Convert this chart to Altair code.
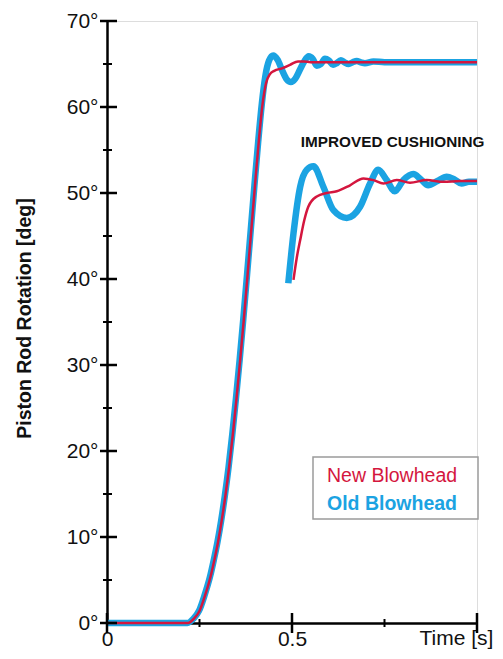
import altair as alt
import pandas as pd

# ---------------- data ----------------
new_main_t = [0.0, 0.219, 0.235, 0.25, 0.265, 0.28, 0.29, 0.30, 0.31, 0.32,
              0.33, 0.34, 0.35, 0.36, 0.37, 0.38, 0.39, 0.40, 0.41, 0.42,
              0.43, 0.44, 0.452, 0.473, 0.4946, 0.5162, 0.5324, 0.55, 0.6, 0.7,
              0.8, 0.9, 1.0]
new_main_deg = [0.0, 0.0, 0.5, 1.4, 3.2, 5.4, 7.3, 9.4, 11.9, 14.8,
                18.1, 21.9, 26.1, 30.6, 35.4, 40.5, 45.7, 50.9, 55.9, 60.2,
                62.8, 63.8, 64.2, 64.5, 64.9, 65.3, 65.3, 65.2, 65.2, 65.2,
                65.2, 65.2, 65.2]

old_main_t = [0.0, 0.2175, 0.2335, 0.2485, 0.2635, 0.2785, 0.2885, 0.2985, 0.3085, 0.3185,
              0.3285, 0.3385, 0.3485, 0.3585, 0.3685, 0.3785, 0.3885, 0.3985, 0.4085, 0.4185,
              0.428, 0.438, 0.449, 0.461, 0.474,
              0.486, 0.497, 0.509, 0.521, 0.533, 0.545, 0.556, 0.567, 0.578, 0.589,
              0.600, 0.611, 0.621, 0.632, 0.642, 0.653, 0.664, 0.675, 0.686, 0.697,
              0.72, 0.75, 0.8, 0.9, 1.0]
old_main_deg = [0.0, 0.0, 0.5, 1.4, 3.2, 5.4, 7.3, 9.4, 11.9, 14.8,
                18.1, 21.9, 26.1, 30.6, 35.4, 40.5, 45.7, 50.9, 55.9, 60.4,
                63.6, 65.4, 66.0, 65.5, 64.2,
                63.2, 62.9, 63.3, 64.3, 65.3, 65.9, 65.6, 64.8, 65.0, 65.6,
                65.4, 64.9, 65.1, 65.45, 65.2, 65.0, 65.2, 65.35, 65.2, 65.1,
                65.3, 65.2, 65.2, 65.2, 65.2]

new_inset_t = [0.504, 0.513, 0.522, 0.533, 0.544, 0.567, 0.594, 0.621, 0.657, 0.693,
               0.720, 0.747, 0.783, 0.819, 0.864, 0.909, 0.955, 1.0]
new_inset_deg = [39.9, 42.5, 44.5, 46.8, 48.4, 49.6, 50.0, 50.2, 50.9, 51.7,
                 51.5, 51.1, 51.5, 51.2, 51.5, 51.3, 51.4, 51.4]

old_inset_t = [0.490, 0.504, 0.522, 0.540, 0.558, 0.585, 0.612, 0.648, 0.684, 0.711,
               0.733, 0.756, 0.778, 0.801, 0.828, 0.848, 0.868, 0.893, 0.918, 0.938,
               0.958, 0.978, 1.0]
old_inset_deg = [39.5, 45.3, 50.7, 52.7, 53.1, 50.7, 48.0, 47.1, 48.4, 51.1,
                 52.7, 51.5, 50.2, 51.5, 52.2, 51.6, 50.9, 51.4, 51.9, 51.6,
                 51.1, 51.3, 51.3]

series_names = ["New Blowhead", "Old Blowhead"]
annotation_text = ["IMPROVED CUSHIONING"]
annotation_pos = [0.772, 55.9]  # (time, degrees)

y_major = [0, 10, 20, 30, 40, 50, 60, 70]
y_minor = [5, 15, 25, 35, 45, 55, 65]
x_major = [0.0, 0.5, 1.0]
x_minor = [0.25, 0.75]
x_labels = [0.0, 0.5]

# ---------------- styling ----------------
FONT = "Liberation Sans, Arial, Helvetica, sans-serif"
BLUE = "#1BA3E2"
RED = "#D4163E"
INK = "#111111"

def part_df(t, d, name, part):
    return pd.DataFrame({"t": t, "deg": d, "series": name, "part": part})

new_df = pd.concat([part_df(new_main_t, new_main_deg, series_names[0], "main"),
                    part_df(new_inset_t, new_inset_deg, series_names[0], "inset")])
old_df = pd.concat([part_df(old_main_t, old_main_deg, series_names[1], "main"),
                    part_df(old_inset_t, old_inset_deg, series_names[1], "inset")])

x_scale = alt.Scale(domain=[0, 1], nice=False, zero=False)
y_scale = alt.Scale(domain=[0, 70], nice=False)

x_axis = alt.Axis(values=x_labels, format="~g", ticks=False, grid=False,
                  domainColor="black", domainWidth=2.5, labelFlush=False,
                  labelFontSize=21, labelColor=INK, labelFont=FONT, labelPadding=5,
                  title="Time [s]", titleX=349, titleY=15, titleAlign="center",
                  titleBaseline="middle", titleFontSize=21, titleFontWeight="normal",
                  titleColor=INK, titleFont=FONT)
y_axis = alt.Axis(values=y_major, labelExpr="datum.value + '°'", ticks=False, grid=False,
                  domainColor="black", domainWidth=2.5,
                  labelFontSize=21, labelColor=INK, labelFont=FONT, labelPadding=9,
                  title="Piston Rod Rotation [deg]", titleX=-83, titleY=297,
                  titleAlign="center", titleBaseline="middle", titleAngle=270,
                  titleFontSize=19.5, titleFontWeight="bold", titleColor=INK, titleFont=FONT)

def X(field):
    return alt.X(field, type="quantitative", scale=x_scale, axis=x_axis)

def Y(field):
    return alt.Y(field, type="quantitative", scale=y_scale, axis=y_axis)

old_line = alt.Chart(old_df).mark_line(
    color=BLUE, strokeWidth=6.5, interpolate="monotone", strokeCap="butt", strokeJoin="round"
).encode(x=X("t"), y=Y("deg"), detail="part:N")

new_line = alt.Chart(new_df).mark_line(
    color=RED, strokeWidth=2.5, interpolate="monotone", strokeCap="butt", strokeJoin="round"
).encode(x=X("t"), y=Y("deg"), detail="part:N")

# crossing tick marks
y_major_ticks = alt.Chart(pd.DataFrame({"v": y_major})).mark_rule(
    color="black", strokeWidth=2.5).encode(y=Y("v"), x=alt.value(-7), x2=alt.value(10))
y_minor_ticks = alt.Chart(pd.DataFrame({"v": y_minor})).mark_rule(
    color="black", strokeWidth=2).encode(y=Y("v"), x=alt.value(-4), x2=alt.value(5))
x_major_ticks = alt.Chart(pd.DataFrame({"v": x_major})).mark_rule(
    color="black", strokeWidth=2.5).encode(x=X("v"), y=alt.value(592), y2=alt.value(612))
x_minor_ticks = alt.Chart(pd.DataFrame({"v": x_minor})).mark_rule(
    color="black", strokeWidth=2).encode(x=X("v"), y=alt.value(598), y2=alt.value(606))

annotation = alt.Chart(pd.DataFrame({"label": annotation_text})).mark_text(
    font=FONT, fontSize=15.3, fontWeight="bold", color=INK, align="center", baseline="middle"
).encode(text="label:N", x=alt.datum(annotation_pos[0]), y=alt.datum(annotation_pos[1]))

# legend box
legend_box = alt.Chart(pd.DataFrame({"a": [0]})).mark_rect(
    fill="white", stroke="#9b9b9b", strokeWidth=1.5
).encode(x=alt.value(206), x2=alt.value(371), y=alt.value(436), y2=alt.value(498))
legend_new = alt.Chart(pd.DataFrame({"label": [series_names[0]]})).mark_text(
    font=FONT, fontSize=19.5, color=RED, align="left", baseline="middle"
).encode(text="label:N", x=alt.value(220), y=alt.value(455))
legend_old = alt.Chart(pd.DataFrame({"label": [series_names[1]]})).mark_text(
    font=FONT, fontSize=19.5, fontWeight="bold", color=BLUE, align="left", baseline="middle"
).encode(text="label:N", x=alt.value(220), y=alt.value(483))

chart = alt.layer(
    old_line, new_line, y_major_ticks, y_minor_ticks, x_major_ticks, x_minor_ticks,
    annotation, legend_box, legend_new, legend_old
).properties(
    width=370, height=602,
    autosize=alt.AutoSizeParams(type="none"),
    padding={"left": 99, "top": 13, "right": 18, "bottom": 28},
).configure_view(stroke=None).configure(background="white")

chart.save("out.html", embed_options={"renderer": "svg", "actions": False})
